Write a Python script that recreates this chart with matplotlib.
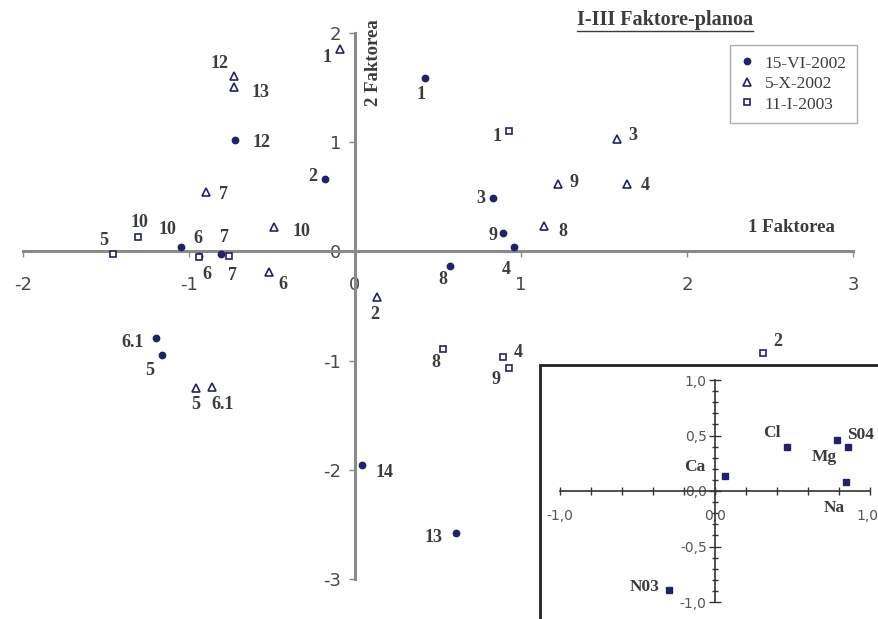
import numpy as np
import matplotlib
matplotlib.use("Agg")
import matplotlib.pyplot as plt
from matplotlib.lines import Line2D
from matplotlib.patches import Rectangle
from matplotlib.transforms import ScaledTranslation

plt.rcParams['axes.unicode_minus'] = False

SERIF = 'Liberation Serif'
SANS = 'DejaVu Sans'
NAVY = '#22226a'
TXT = '#3c3c3c'
AXC = '#8a8a8a'

# --- main plane: factor scores per sampling date ---
# 15-VI-2002 (filled circles)
jun_labels = ['1', '2', '3', '9', '4', '8', '12', '10', '6', '7', '6.1', '5', '14', '13']
jun_x = [0.42, -0.18, 0.83, 0.89, 0.96, 0.57, -0.72, -1.05, -0.94, -0.81, -1.20, -1.16, 0.04, 0.61]
jun_y = [1.59, 0.66, 0.49, 0.17, 0.04, -0.13, 1.02, 0.04, -0.04, -0.02, -0.79, -0.95, -1.96, -2.58]

# 5-X-2002 (open triangles)
oct_labels = ['1', '12', '13', '7', '10', '6', '3', '9', '4', '8', '2', '5', '6.1']
oct_x = [-0.09, -0.73, -0.73, -0.90, -0.49, -0.52, 1.58, 1.22, 1.64, 1.14, 0.13, -0.96, -0.86]
oct_y = [1.85, 1.61, 1.51, 0.54, 0.22, -0.19, 1.03, 0.62, 0.62, 0.23, -0.42, -1.25, -1.24]

# 11-I-2003 (open squares)
jan_labels = ['1', '10', '5', '6', '7', '2', '8', '4', '9']
jan_x = [0.93, -1.31, -1.46, -0.94, -0.76, 2.46, 0.53, 0.89, 0.93]
jan_y = [1.10, 0.13, -0.02, -0.05, -0.04, -0.93, -0.89, -0.97, -1.07]

# --- inset: variable loadings ---
var_labels = ['Ca', 'Cl', 'Mg', 'S04', 'Na', 'N03']
var_x = [0.065, 0.465, 0.79, 0.86, 0.845, -0.30]
var_y = [0.135, 0.40, 0.46, 0.40, 0.08, -0.89]

main_xticks = [-2, -1, 0, 1, 2, 3]
main_yticks = [-3, -2, -1, 0, 1, 2]

# label offsets in pixels (layout only)
jun_off = [(-4, -17), (-12, 3), (-12, -1), (-10, -3), (-8, -22), (-7, -14), (26, -2),
           (-13, 18), (-1, 17), (4, 16), (-23, -5), (-13, -15), (23, -7), (-23, -4)]
oct_off = [(-13, -8), (-14, 12), (27, -6), (18, -2), (28, -4), (14, -12), (16, 3),
           (16, 1), (18, -2), (19, -5), (-2, -17), (0, -17), (10, -18)]
jan_off = [(-12, -5), (2, 15), (-9, 13), (8, -18), (4, -20), (14, 11), (-7, -14),
           (16, 5), (-13, -11)]
var_off = [(-30, 9), (-15, 14), (-13, -17), (12, 12), (-12, -26), (-24, 3)]

W, H = 879, 619
fig = plt.figure(figsize=(W / 100, H / 100), dpi=100)
ax = fig.add_axes([23 / W, 1 - 579 / H, 830 / W, 546 / H])
ax.set_xlim(-2, 3)
ax.set_ylim(-3, 2)

for s in ['top', 'right']:
    ax.spines[s].set_visible(False)
for s in ['left', 'bottom']:
    ax.spines[s].set_position(('data', 0))
    ax.spines[s].set_color(AXC)
    ax.spines[s].set_linewidth(2.2)
ax.set_xticks(main_xticks)
ax.set_yticks(main_yticks)
ax.set_xticklabels([str(v) for v in main_xticks])
ax.set_yticklabels([str(v) for v in main_yticks])
ax.tick_params(axis='x', direction='out', length=4, width=1, color=AXC, pad=14,
               labelsize=13, labelcolor='#484848')
ax.tick_params(axis='y', direction='out', length=4, width=1, color=AXC, pad=6,
               labelsize=13, labelcolor='#484848')
for lab in ax.get_xticklabels() + ax.get_yticklabels():
    lab.set_family(SANS)

lab_kw = dict(textcoords='offset pixels', ha='center', va='center',
              fontsize=13, fontweight='bold', family=SERIF, color=TXT)

ax.plot(jun_x, jun_y, 'o', ls='none', ms=4.6, mfc=NAVY, mec=NAVY, label='15-VI-2002', zorder=3)
ax.plot(oct_x, oct_y, '^', ls='none', ms=5.5, mfc='white', mec=NAVY, mew=1.2, label='5-X-2002', zorder=3)
ax.plot(jan_x, jan_y, 's', ls='none', ms=4.6, mfc='white', mec=NAVY, mew=1.2, label='11-I-2003', zorder=3)

for labels, xs, ys, offs in [(jun_labels, jun_x, jun_y, jun_off),
                             (oct_labels, oct_x, oct_y, oct_off),
                             (jan_labels, jan_x, jan_y, jan_off)]:
    for t, x, y, o in zip(labels, xs, ys, offs):
        ax.annotate(t, (x, y), xytext=o, **lab_kw)

ax.text(2.63, 0.22, '1 Faktorea', ha='center', va='center', fontsize=13.5,
        fontweight='bold', family=SERIF, color=TXT)
ax.text(0.11, 1.73, '2 Faktorea', ha='center', va='center', rotation=90, fontsize=13.5,
        fontweight='bold', family=SERIF, color=TXT)

leg = ax.legend(loc='upper left', bbox_to_anchor=(730 / W, 1 - 45 / H),
                bbox_transform=fig.transFigure, prop={'family': SERIF, 'size': 12.5},
                frameon=True, fancybox=False, handlelength=0.8, handletextpad=0.6,
                labelspacing=0.25, borderpad=0.6, borderaxespad=0, labelcolor=TXT)
leg.get_frame().set_edgecolor('#9a9a9a')
leg.get_frame().set_linewidth(1.0)

title = fig.text(665 / W, 1 - 20 / H, 'I-III Faktore-planoa', ha='center', va='center',
                 fontsize=14.5, fontweight='bold', family=SERIF, color=TXT)

# --- inset frame and axes ---
fig.add_artist(Rectangle((540 / W, -0.1), 0.5, 0.1 + 1 - 365 / H, transform=fig.transFigure,
                         facecolor='white', edgecolor='#222222', linewidth=2, zorder=4))
axi = fig.add_axes([560 / W, 1 - 602 / H, 310 / W, 222 / H], zorder=5)
axi.patch.set_alpha(0)
axi.set_xlim(-1, 1)
axi.set_ylim(-1, 1)
for s in ['top', 'right']:
    axi.spines[s].set_visible(False)
for s in ['left', 'bottom']:
    axi.spines[s].set_position(('data', 0))
    axi.spines[s].set_color('#333333')
    axi.spines[s].set_linewidth(1.2)
in_xt = np.round(np.arange(-1, 1.01, 0.2), 1)
axi.set_xticks(in_xt)
axi.set_xticklabels(['-1,0' if v == -1 else '0,0' if v == 0 else '1,0' if v == 1 else '' for v in in_xt])
in_yt = [-1, -0.5, 0, 0.5, 1]
axi.set_yticks(in_yt)
axi.set_yticklabels(['-1,0', '-0,5', '0,0', '0,5', '1,0'])
axi.set_yticks(np.round(np.arange(-1, 1.01, 0.1), 1), minor=True)
axi.tick_params(axis='x', direction='inout', length=6, width=1, color='#333333', pad=10,
                labelsize=10, labelcolor='#555555')
axi.tick_params(axis='y', which='major', direction='inout', length=8, width=1, color='#333333',
                pad=2, labelsize=10, labelcolor='#555555')
axi.tick_params(axis='y', which='minor', direction='inout', length=5, width=1, color='#333333')
for lab in axi.get_xticklabels() + axi.get_yticklabels():
    lab.set_family(SANS)
# keep the right-most label inside the figure edge
last = axi.get_xticklabels()[-1]
last.set_horizontalalignment('right')
last.set_transform(last.get_transform() + ScaledTranslation(0.08, 0, fig.dpi_scale_trans))

axi.plot(var_x, var_y, 's', ls='none', ms=5, mfc=NAVY, mec=NAVY, zorder=3)
for t, x, y, o in zip(var_labels, var_x, var_y, var_off):
    axi.annotate(t, (x, y), xytext=o, textcoords='offset pixels', ha='center', va='center',
                 fontsize=12.5, fontweight='bold', family=SERIF, color=TXT)

# underline the title
fig.canvas.draw()
bb = title.get_window_extent(fig.canvas.get_renderer())
fig.add_artist(Line2D([bb.x0 / W, bb.x1 / W], [(bb.y0 - 1) / H, (bb.y0 - 1) / H],
                      transform=fig.transFigure, color=TXT, linewidth=1.0))

fig.savefig('out.png', dpi=100)
